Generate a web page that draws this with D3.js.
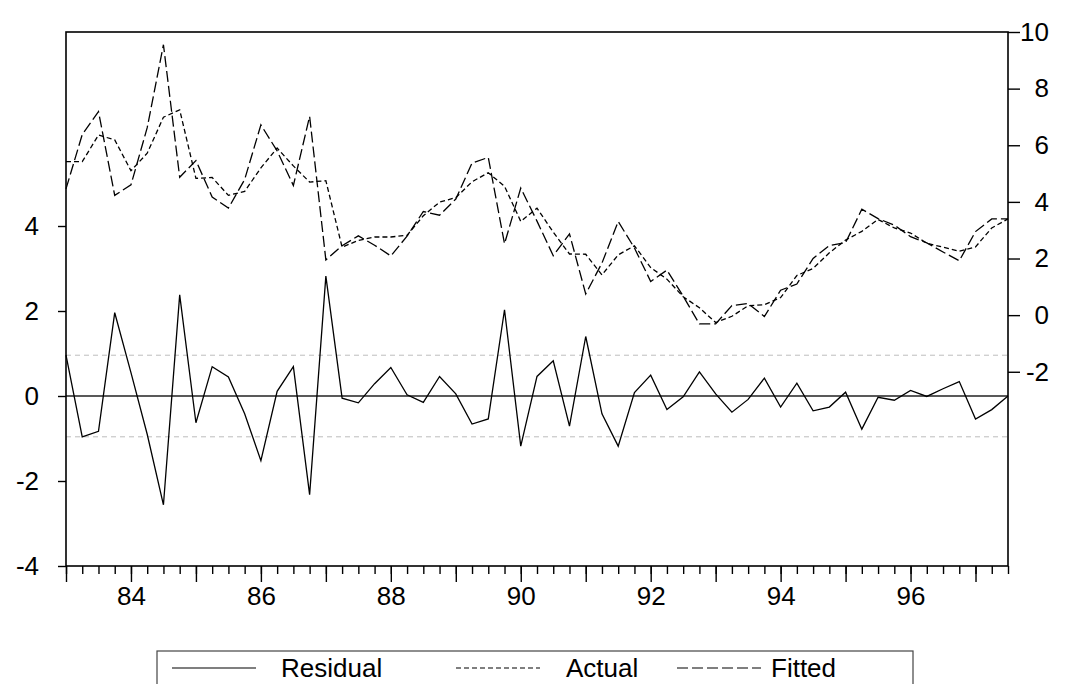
<!DOCTYPE html>
<meta charset="utf-8">
<style>
    body { margin: 0; background: #fff; }
    text { font-family: "Liberation Sans", Arial, sans-serif; fill: #000; }
</style>
<body>
<script src="https://d3js.org/d3.v7.min.js"></script>
<script>
    var width = 1069,
        height = 684;

    // quarterly observations, 1983Q1 .. 1997Q3
    var startYear = 1983;

    var residual = [0.96, -0.96, -0.83, 1.96, 0.55, -0.90, -2.56, 2.38, -0.63, 0.69,
        0.45, -0.42, -1.52, 0.11, 0.69, -2.32, 2.82, -0.05, -0.16, 0.29,
        0.67, 0.03, -0.15, 0.46, 0.05, -0.66, -0.54, 2.03, -1.18, 0.46,
        0.83, -0.71, 1.40, -0.42, -1.18, 0.08, 0.49, -0.32, -0.02, 0.57,
        0.05, -0.38, -0.08, 0.42, -0.26, 0.30, -0.35, -0.26, 0.09, -0.78,
        -0.03, -0.10, 0.13, -0.01, 0.17, 0.34, -0.54, -0.32, 0.00];

    var actual = [5.42, 5.42, 6.36, 6.19, 5.10, 5.72, 6.99, 7.25, 4.83, 4.86,
        4.23, 4.37, 5.20, 5.90, 5.27, 4.70, 4.75, 2.40, 2.64, 2.76,
        2.76, 2.82, 3.51, 3.99, 4.15, 4.71, 5.03, 4.55, 3.31, 3.78,
        2.93, 2.16, 2.15, 1.42, 2.13, 2.45, 1.68, 1.27, 0.65, 0.26,
        -0.26, -0.04, 0.33, 0.37, 0.62, 1.40, 1.65, 2.20, 2.65, 2.96,
        3.38, 3.08, 2.90, 2.54, 2.40, 2.26, 2.41, 3.08, 3.40];

    var fitted = [4.46, 6.38, 7.19, 4.23, 4.60, 6.62, 9.55, 4.87, 5.46, 4.17,
        3.78, 4.79, 6.72, 5.80, 4.58, 7.02, 1.95, 2.45, 2.80, 2.47,
        2.09, 2.79, 3.66, 3.53, 4.10, 5.37, 5.57, 2.52, 4.49, 3.32,
        2.10, 2.87, 0.75, 1.84, 3.31, 2.37, 1.19, 1.59, 0.67, -0.31,
        -0.31, 0.34, 0.41, -0.05, 0.88, 1.10, 2.00, 2.46, 2.56, 3.74,
        3.41, 3.18, 2.77, 2.55, 2.23, 1.92, 2.95, 3.40, 3.40];

    var seRegression = 0.96; // +/- band drawn around zero residual

    var leftTicks = [-4, -2, 0, 2, 4],
        rightTicks = [-2, 0, 2, 4, 6, 8, 10],
        yearLabels = [1984, 1986, 1988, 1990, 1992, 1994, 1996];

    var legendItems = [
        {name: 'Residual', dash: null},
        {name: 'Actual', dash: '5,3'},
        {name: 'Fitted', dash: '11,4'}
    ];

    const margin = {top: 32, right: 61, bottom: 118, left: 66};

    var n = residual.length;
    var t = d3.range(n).map(i => startYear + i / 4);

    var x = d3.scaleLinear()
        .domain([startYear, startYear + (n - 1) / 4])
        .range([margin.left, width - margin.right]);

    var yL = d3.scaleLinear()
        .domain([-4, 8.565])
        .range([height - margin.bottom, margin.top]);

    var yR = d3.scaleLinear()
        .domain([-8.86, 10])
        .range([height - margin.bottom, margin.top]);

    const svg = d3.select('body')
        .append('svg')
        .attr('width', width)
        .attr('height', height);

    // standard error band and zero line for the residual
    svg.selectAll('.band')
        .data([seRegression, -seRegression])
        .enter().append('line')
        .attr('x1', x.range()[0]).attr('x2', x.range()[1])
        .attr('y1', d => yL(d)).attr('y2', d => yL(d))
        .attr('stroke', '#bdbdbd')
        .attr('stroke-width', 1)
        .attr('stroke-dasharray', '5,4');

    svg.append('line')
        .attr('x1', x.range()[0]).attr('x2', x.range()[1])
        .attr('y1', yL(0)).attr('y2', yL(0))
        .attr('stroke', '#222')
        .attr('stroke-width', 1.3);

    var lineL = d3.line().x((d, i) => x(t[i])).y(d => yL(d));
    var lineR = d3.line().x((d, i) => x(t[i])).y(d => yR(d));

    svg.append('path')
        .attr('d', lineL(residual))
        .attr('fill', 'none')
        .attr('stroke', '#000')
        .attr('stroke-width', 1.3);

    svg.append('path')
        .attr('d', lineR(actual))
        .attr('fill', 'none')
        .attr('stroke', '#000')
        .attr('stroke-width', 1.3)
        .attr('stroke-dasharray', legendItems[1].dash);

    svg.append('path')
        .attr('d', lineR(fitted))
        .attr('fill', 'none')
        .attr('stroke', '#000')
        .attr('stroke-width', 1.3)
        .attr('stroke-dasharray', legendItems[2].dash);

    // frame
    svg.append('rect')
        .attr('x', x.range()[0])
        .attr('y', margin.top)
        .attr('width', x.range()[1] - x.range()[0])
        .attr('height', yL.range()[0] - margin.top)
        .attr('fill', 'none')
        .attr('stroke', '#000')
        .attr('stroke-width', 1.6);

    // left axis (residual)
    const axL = svg.append('g')
        .attr('transform', `translate(${x.range()[0]},0)`)
        .call(d3.axisLeft(yL).tickValues(leftTicks).tickSize(8).tickPadding(19)
            .tickFormat(d => String(d)));

    // right axis (actual / fitted)
    const axR = svg.append('g')
        .attr('transform', `translate(${x.range()[1]},0)`)
        .call(d3.axisRight(yR).tickValues(rightTicks).tickSize(12).tickPadding(4)
            .tickFormat(d => String(d)));
    axR.selectAll('text').attr('text-anchor', 'end').attr('x', 41);

    // bottom axis: quarterly minor ticks, yearly longer ticks, labels every two years
    const axB = svg.append('g')
        .attr('transform', `translate(0,${yL.range()[0]})`);
    axB.call(d3.axisBottom(x).tickValues(t).tickSize(8).tickFormat(''));
    axB.append('g')
        .call(d3.axisBottom(x).tickValues(t.filter(d => d % 1 === 0)).tickSize(16).tickFormat(''));
    axB.append('g')
        .call(d3.axisBottom(x).tickValues(yearLabels).tickSize(0).tickPadding(21)
            .tickFormat(d => String(d).slice(2)));

    [axL, axR, axB].forEach(function (g) {
        g.selectAll('.domain').remove();
        g.selectAll('line').attr('stroke', '#000').attr('stroke-width', 1.4);
        g.selectAll('text')
            .style('font-family', '"Liberation Sans", Arial, sans-serif')
            .style('font-size', '26px')
            .attr('fill', '#000');
    });

    // legend (box runs past the bottom edge, as in the original)
    const legend = svg.append('g');
    legend.append('rect')
        .attr('x', 157).attr('y', 651)
        .attr('width', 756).attr('height', 70)
        .attr('fill', 'none')
        .attr('stroke', '#444')
        .attr('stroke-width', 1.2);

    var legendLineX = [172, 456, 677],
        legendTextX = [281, 566, 771];
    legendItems.forEach(function (d, i) {
        legend.append('line')
            .attr('x1', legendLineX[i]).attr('x2', legendLineX[i] + 84)
            .attr('y1', 668).attr('y2', 668)
            .attr('stroke', '#000')
            .attr('stroke-width', 1.2)
            .attr('stroke-dasharray', d.dash);
        legend.append('text')
            .attr('x', legendTextX[i])
            .attr('y', 677)
            .style('font-size', '26px')
            .text(d.name);
    });
</script>
</body>
</html>
